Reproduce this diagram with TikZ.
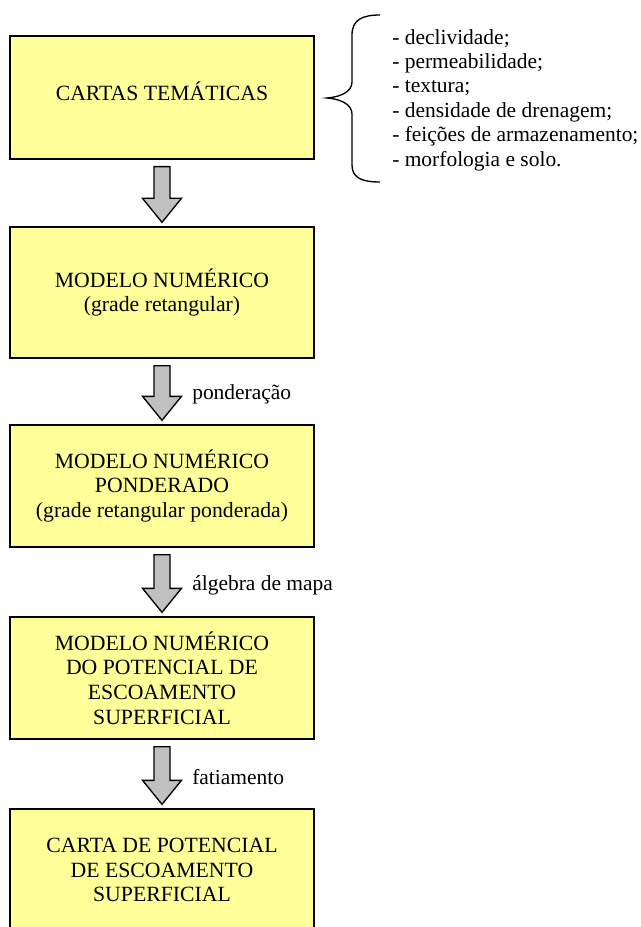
\documentclass[tikz,border=0pt]{standalone}
\usepackage{fontspec}
\setmainfont{Liberation Serif}
\usetikzlibrary{calc}
\definecolor{boxFill}{RGB}{255,255,153}
\definecolor{arrowFill}{RGB}{192,192,192}
\tikzset{
    every node/.append style={align=center},
    box/.style={rectangle,draw=black,line width=1pt,fill=boxFill,minimum width=228pt,
        font=\fontsize{16.3}{18.5}\selectfont,inner sep=0pt},
    fatarr/.style={draw=black,line width=1pt,fill=arrowFill,line join=miter},
    lbl/.style={font=\fontsize{16.1}{18.3}\selectfont,anchor=west,inner sep=0pt},
    brace/.style={draw=black,line width=1pt}
}
\newcommand{\fatarrow}[2]{%
    \draw[fatarr] let \p1=($(#1.south)+(0,7)$), \p2=($(#2.north)+(0,-4)$) in
        (\x1-6pt,\y1) -- (\x1+6pt,\y1) -- (\x1+6pt,\y2+18pt) -- (\x1+14.6pt,\y2+18pt)
        -- (\x1,\y2) -- (\x1-14.6pt,\y2+18pt) -- (\x1-6pt,\y2+18pt) -- cycle;}

\begin{document}
\begin{tikzpicture}[x=0.75pt,y=-0.75pt]
    \useasboundingbox (0,0) rectangle (641,927);
    % boxes
    \node[box,minimum height=92.25pt] (cartas)   at (162,97.5) {\raisebox{10pt}{CARTAS TEMÁTICAS}};
    \node[box,minimum height=98.25pt] (modnum)   at (162,292.5) {MODELO NUMÉRICO\\(grade retangular)};
    \node[box,minimum height=91.5pt]  (modpond)  at (162,486) {MODELO NUMÉRICO\\PONDERADO\\(grade retangular ponderada)};
    \node[box,minimum height=91.5pt]  (modpot)   at (162,678) {MODELO NUMÉRICO\\DO POTENCIAL DE\\ESCOAMENTO\\SUPERFICIAL};
    \node[box,minimum height=91.5pt]  (cartapot) at (162,870) {CARTA DE POTENCIAL\\DE ESCOAMENTO\\SUPERFICIAL};

    % list of themes
    \node[lbl,align=left] (lista) at (392,100) {- declividade;\\- permeabilidade;\\- textura;\\- densidade de drenagem;\\- feições de armazenamento;\\- morfologia e solo.};
    \draw[brace] (380,15) .. controls (362,15) and (352,20) .. (352,35) -- (352,82)
        .. controls (352,92) and (340,97) .. (327,98) .. controls (340,99) and (352,104) .. (352,114)
        -- (352,165) .. controls (352,178) and (362,182) .. (380,182);

    % arrows
    \fatarrow{cartas}{modnum}
    \fatarrow{modnum}{modpond}
    \fatarrow{modpond}{modpot}
    \fatarrow{modpot}{cartapot}
    \node[lbl] (pond)  at ($(modnum.south)!0.5!(modpond.north)+(30,3)$)  {ponderação};
    \node[lbl] (alg)   at ($(modpond.south)!0.5!(modpot.north)+(30,3)$)  {álgebra de mapa};
    \node[lbl] (fatia) at ($(modpot.south)!0.5!(cartapot.north)+(30,3)$) {fatiamento};
\end{tikzpicture}
\end{document}
